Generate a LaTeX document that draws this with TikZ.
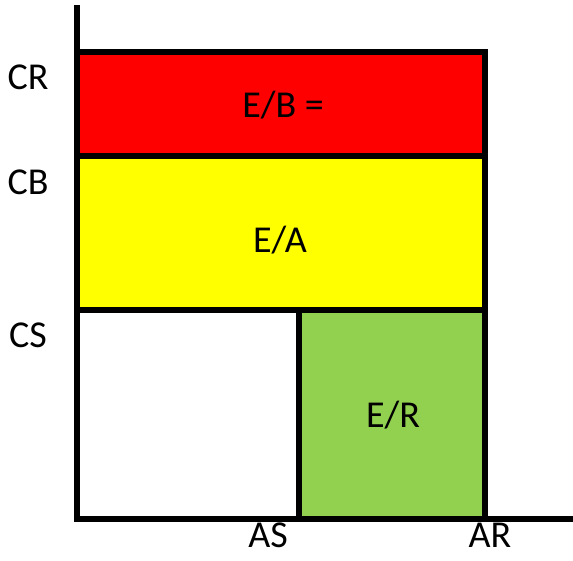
\documentclass[tikz,border=0pt]{standalone}
\usepackage{fontspec}
\setmainfont{Carlito}
\begin{document}
\begin{tikzpicture}[x=1pt,y=-1pt,
  edge/.style={line width=6pt,draw=black},
  lbl/.style={anchor=base,inner sep=0pt,font=\fontsize{38}{40}\selectfont}]
\useasboundingbox (0,0) rectangle (573,560);
\definecolor{cred}{HTML}{FF0000}
\definecolor{cyellow}{HTML}{FFFF00}
\definecolor{cgreen}{HTML}{92D050}
\fill[cred] (77,52) rectangle (485,156);
\fill[cyellow] (77,156) rectangle (485,309.5);
\fill[cgreen] (298.5,309.5) rectangle (485,518.5);
\draw[edge] (77,52) -- (485,52) -- (485,518.5);
\draw[edge] (77,156) -- (485,156);
\draw[edge] (77,309.5) -- (485,309.5);
\draw[edge] (298.5,309.5) -- (298.5,518.5);
\draw[edge] (77,5) -- (77,518.5) -- (573,518.5);
\node[lbl] (cr) at (28,89) {CR};
\node[lbl] (cb) at (28,194) {CB};
\node[lbl] (cs) at (28,347) {CS};
\node[lbl] (as) at (268,547) {AS};
\node[lbl] (ar) at (490,547) {AR};
\node[lbl] (eb) at (283,117) {E/B =};
\node[lbl] (ea) at (280,252) {E/A};
\node[lbl] (er) at (393,427) {E/R};
\end{tikzpicture}
\end{document}
